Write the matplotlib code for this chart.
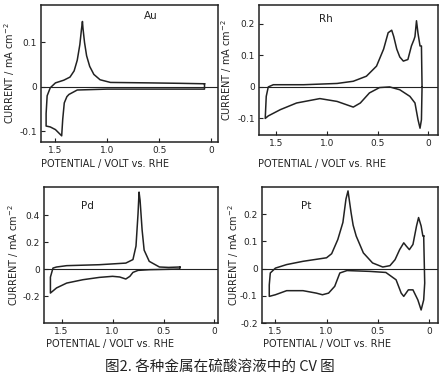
import matplotlib
matplotlib.use("Agg")
import matplotlib.pyplot as plt

plt.rcParams['font.family'] = ['DejaVu Sans']
plt.rcParams['mathtext.default'] = 'regular'

# ---- Au ----
au_E = [0.064, 0.3, 0.6, 0.97, 1.07, 1.13, 1.17, 1.20, 1.22, 1.235, 1.24, 1.25, 1.265, 1.29, 1.32, 1.36, 1.42, 1.50, 1.55, 1.58, 1.59,
        1.59, 1.55, 1.50, 1.47, 1.44, 1.43, 1.415, 1.39, 1.37, 1.29, 1.0, 0.6, 0.3, 0.064, 0.064]
au_I = [0.007, 0.008, 0.009, 0.010, 0.016, 0.028, 0.046, 0.070, 0.100, 0.132, 0.147, 0.128, 0.095, 0.060, 0.036, 0.022, 0.015, 0.009, -0.002, -0.02, -0.06,
        -0.088, -0.090, -0.096, -0.103, -0.110, -0.073, -0.036, -0.022, -0.017, -0.007, -0.005, -0.005, -0.005, -0.005, 0.007]

# ---- Rh ----
rh_E = [0.06, 0.066, 0.08, 0.10, 0.115, 0.13, 0.14, 0.165, 0.20, 0.245, 0.28, 0.31, 0.34, 0.36, 0.395, 0.44, 0.51, 0.61, 0.74, 0.90, 1.23, 1.53, 1.58, 1.60, 1.61,
        1.58, 1.46, 1.30, 1.07, 0.90, 0.74, 0.67, 0.58, 0.48, 0.38, 0.28, 0.18, 0.13, 0.10, 0.08, 0.066, 0.06]
rh_I = [0.0, 0.13, 0.13, 0.17, 0.21, 0.16, 0.15, 0.13, 0.087, 0.082, 0.095, 0.12, 0.16, 0.18, 0.172, 0.12, 0.066, 0.034, 0.018, 0.011, 0.007, 0.007, 0.0, -0.03, -0.10,
        -0.092, -0.072, -0.051, -0.037, -0.046, -0.064, -0.051, -0.019, -0.002, 0.0, -0.009, -0.03, -0.051, -0.104, -0.131, -0.104, 0.0]

# ---- Pd ----
pd_E = [0.34, 0.45, 0.54, 0.64, 0.69, 0.71, 0.73, 0.74, 0.75, 0.77, 0.80, 0.87, 1.13, 1.45, 1.55, 1.585, 1.61,
        1.61, 1.55, 1.45, 1.29, 1.13, 1.00, 0.93, 0.87, 0.83, 0.80, 0.75, 0.64, 0.45, 0.34, 0.34]
pd_I = [0.015, 0.012, 0.015, 0.057, 0.14, 0.29, 0.51, 0.57, 0.41, 0.17, 0.07, 0.044, 0.032, 0.025, 0.015, 0.007, -0.06,
        -0.178, -0.14, -0.104, -0.079, -0.062, -0.054, -0.059, -0.074, -0.054, -0.025, -0.010, -0.005, -0.002, 0.0, 0.015]

# ---- Pt ----
pt_E = [0.05, 0.058, 0.075, 0.10, 0.12, 0.155, 0.19, 0.22, 0.245, 0.285, 0.33, 0.38, 0.45, 0.55, 0.64, 0.71, 0.74, 0.76, 0.79, 0.81, 0.84, 0.89,
        0.95, 1.00, 1.23, 1.39, 1.50, 1.55, 1.56,
        1.56, 1.50, 1.39, 1.23, 1.10, 1.04, 0.98, 0.92, 0.87, 0.80, 0.58, 0.42, 0.32, 0.27, 0.245, 0.20, 0.155, 0.107, 0.075, 0.05, 0.04, 0.05]
pt_I = [0.12, 0.12, 0.157, 0.188, 0.157, 0.089, 0.07, 0.083, 0.095, 0.07, 0.033, 0.011, 0.006, 0.021, 0.058, 0.12, 0.16, 0.206, 0.286, 0.256, 0.17, 0.107,
        0.055, 0.04, 0.027, 0.015, 0.002, -0.016, -0.06,
        -0.102, -0.096, -0.081, -0.081, -0.090, -0.096, -0.090, -0.065, -0.016, -0.007, -0.010, -0.014, -0.041, -0.090, -0.102, -0.078, -0.078, -0.115, -0.152, -0.115, -0.053, 0.12]

panels = [
    dict(name="Au", E=au_E, I=au_I, rect=[0.093, 0.631, 0.402, 0.356], xlim=(1.64, -0.064), ylim=(-0.124, 0.184),
         yticks=[-0.1, 0, 0.1], yticklabels=["-0.1", "0", "0.1"], lab=(0.62, 0.9),
         xl=(0.36, -0.12), yl=(-0.136, 0.5)),
    dict(name="Rh", E=rh_E, I=rh_I, rect=[0.589, 0.649, 0.407, 0.338], xlim=(1.67, -0.10), ylim=(-0.153, 0.26),
         yticks=[-0.1, 0, 0.1, 0.2], yticklabels=["-0.1", "0", "0.1", "0.2"], lab=(0.37, 0.87),
         xl=(0.35, -0.18), yl=(-0.14, 0.5)),
    dict(name="Pd", E=pd_E, I=pd_I, rect=[0.100, 0.161, 0.395, 0.353], xlim=(1.673, -0.033), ylim=(-0.40, 0.607),
         yticks=[-0.2, 0, 0.2, 0.4], yticklabels=["-0.2", "0", "0.2", "0.4"], lab=(0.25, 0.84),
         xl=(0.38, -0.121), yl=(-0.132, 0.5)),
    dict(name="Pt", E=pt_E, I=pt_I, rect=[0.595, 0.161, 0.400, 0.353], xlim=(1.633, -0.088), ylim=(-0.20, 0.30),
         yticks=[-0.2, -0.1, 0, 0.1, 0.2], yticklabels=["-0.2", "-0.1", "0", "0.1", "0.2"], lab=(0.25, 0.84),
         xl=(0.37, -0.121), yl=(-0.12, 0.5)),
]

xticks = [1.5, 1.0, 0.5, 0]
xticklabels = ["1.5", "1.0", "0.5", "0"]

fig = plt.figure(figsize=(4.4, 3.85), dpi=100)
ink = "#222222"
for p in panels:
    ax = fig.add_axes(p["rect"])
    ax.plot(p["E"], p["I"], color=ink, lw=1.1, solid_joinstyle='round')
    ax.axhline(0, color=ink, lw=0.8)
    ax.set_xlim(*p["xlim"])
    ax.set_ylim(*p["ylim"])
    ax.set_xticks(xticks)
    ax.set_xticklabels(xticklabels)
    ax.set_yticks(p["yticks"])
    ax.set_yticklabels(p["yticklabels"])
    ax.tick_params(direction='in', length=3, width=0.8, labelsize=6.5, colors=ink, pad=3)
    for s in ax.spines.values():
        s.set_linewidth(1.1)
        s.set_color(ink)
    ax.set_xlabel("POTENTIAL / VOLT vs. RHE", fontsize=7, color=ink)
    ax.set_ylabel("CURRENT / mA cm$^{-2}$", fontsize=7, color=ink)
    ax.xaxis.set_label_coords(*p["xl"])
    ax.yaxis.set_label_coords(*p["yl"])
    ax.text(p["lab"][0], p["lab"][1], p["name"], transform=ax.transAxes, fontsize=7.5, color=ink, ha='center')

fig.text(0.5, 0.045, "图2. 各种金属在硫酸溶液中的 CV 图", ha='center', va='center', fontsize=10.5,
         family=['Noto Sans CJK SC', 'DejaVu Sans'], color="#222222")

fig.savefig("out.png", dpi=100, facecolor='white')
